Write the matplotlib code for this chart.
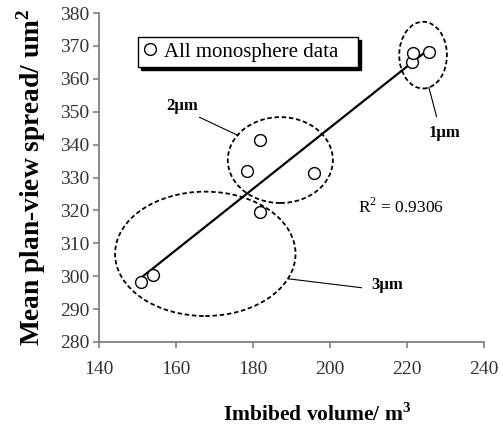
import matplotlib
matplotlib.use("Agg")
import matplotlib.pyplot as plt
from matplotlib.patches import Ellipse
import numpy as np

# Imbibed volume (m^3) and mean plan-view spread (um^2) for each monosphere run.
volume = [151.0, 154.0, 178.5, 181.8, 195.8, 181.8, 221.2, 221.6, 225.7]
spread = [298.3, 300.5, 331.9, 341.4, 331.3, 319.6, 365.2, 367.7, 368.0]

# Groups by sphere size: label, ellipse centre, width, height, label position, leader line ends.
group_labels = ["1\u00b5m", "2\u00b5m", "3\u00b5m"]
group_centres = [(224.2, 367.2), (187.1, 335.3), (167.6, 306.8)]
group_sizes = [(12.4, 20.3), (27.3, 26.1), (46.9, 37.8)]
label_pos = [(229.7, 343.5), (161.6, 351.7), (214.9, 297.3)]
leader_from = [(227.7, 348.5), (166.1, 348.3), (208.2, 296.5)]
leader_to = [(225.7, 357.4), (176.1, 342.8), (189.2, 299.2)]

r2_text = "R$^2$ = 0.9306"

plt.rcParams["font.family"] = ["Liberation Serif", "DejaVu Serif"]
plt.rcParams["mathtext.fontset"] = "custom"
plt.rcParams["mathtext.rm"] = "Liberation Serif"
plt.rcParams["mathtext.bf"] = "Liberation Serif:bold"

fig = plt.figure(figsize=(5.03, 4.34), dpi=100)
ax = fig.add_axes([0.197, 0.212, 0.765, 0.758])

# Data points.
ax.plot(volume, spread, linestyle="none", marker="o", markersize=8.5,
        markerfacecolor="white", markeredgecolor="black", markeredgewidth=1.0,
        label="All monosphere data", zorder=3)

# Linear trend line over the data range.
slope, intercept = np.polyfit(volume, spread, 1)
xfit = np.array([min(volume), max(volume)])
ax.plot(xfit, slope * xfit + intercept, color="black", linewidth=1.6, zorder=2)

# Dashed ellipses and labels for each sphere size.
for lab, c, s, p, a, b in zip(group_labels, group_centres, group_sizes, label_pos, leader_from, leader_to):
    ax.add_patch(Ellipse(c, s[0], s[1], fill=False, edgecolor="black",
                         linestyle=(0, (2.5, 1.5)), linewidth=1.3, zorder=1))
    ax.plot([a[0], b[0]], [a[1], b[1]], color="black", linewidth=0.8)
    ax.text(p[0], p[1], lab, fontsize=12, fontweight="bold", ha="center", va="center")

ax.text(218.6, 321.1, r2_text, fontsize=12.5, ha="center", va="center")

ax.set_xlim(140, 240)
ax.set_ylim(280, 380)
ax.set_xticks(np.arange(140, 241, 20))
ax.set_yticks(np.arange(280, 381, 10))
for side in ["top", "right"]:
    ax.spines[side].set_visible(False)
for side in ["left", "bottom"]:
    ax.spines[side].set_color("#808080")
    ax.spines[side].set_linewidth(1.3)
ax.tick_params(direction="out", length=4, width=1.2, color="#808080",
               labelsize=14, labelcolor="#333333")
ax.tick_params(axis="x", pad=10)
ax.tick_params(axis="y", pad=3)

ax.set_xlabel("Imbibed volume/ m$^\\mathbf{3}$", fontsize=15.5, fontweight="bold")
ax.set_ylabel("Mean plan-view spread/ um$^\\mathbf{2}$", fontsize=19.7, fontweight="bold")
ax.xaxis.set_label_coords(0.567, -0.185)
ax.yaxis.set_label_coords(-0.134, 0.5)

leg = ax.legend(loc="lower left", bbox_to_anchor=(0.101, 0.836, 0.572, 0.088), mode="expand",
                borderaxespad=0, fancybox=False, edgecolor="black", fontsize=15,
                handlelength=0.7, handletextpad=0.3, borderpad=0.25, framealpha=1,
                shadow={"color": "black", "alpha": 1, "ox": 2, "oy": -2})
leg.get_frame().set_linewidth(1.0)

fig.savefig("out.png", dpi=100)
